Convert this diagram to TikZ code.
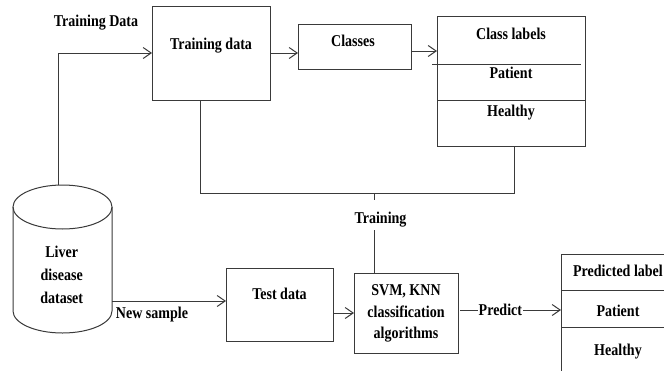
\documentclass[tikz,border=0pt]{standalone}
\usepackage{fontspec}
\setmainfont{Liberation Serif}[FakeStretch=0.85]
\usetikzlibrary{arrows.meta,calc}
\definecolor{lc}{HTML}{3A3A3A}
\begin{document}
\begin{tikzpicture}[x=1pt,y=-1pt,
  ln/.style={draw=lc, line width=1pt},
  arr/.style={ln, -{Straight Barb[length=8pt,width=11pt,line width=1pt]}},
  box/.style={ln, rectangle, inner sep=0pt, outer sep=0pt},
  txt/.style={font=\bfseries\fontsize{16.5}{22}\selectfont, text=black, inner sep=0pt, align=center}]
\clip (0,0) rectangle (664,370);
\fill[white] (0,0) rectangle (664,370);
% boxes
\node[box, minimum width=118, minimum height=94] (td) at (211,53) {};
\node[box, minimum width=113, minimum height=45] (cls) at (354.5,46.5) {};
\node[box, minimum width=148, minimum height=130] (cl) at (511,81) {};
\node[box, minimum width=107, minimum height=73] (test) at (279.5,304.5) {};
\node[box, minimum width=104, minimum height=80] (svm) at (406,313) {};
\node[box, minimum width=114, minimum height=146] (pred) at (618,327) {};
% separator lines
\draw[ln] (432,64) -- (581,64);
\draw[ln] (cl.west |- 0,100) -- (cl.east |- 0,100);
\draw[ln] (pred.west |- 0,290) -- (pred.east |- 0,290);
\draw[ln] (pred.west |- 0,327) -- (pred.east |- 0,327);
% cylinder
\draw[ln, fill=white] (13,207) -- (13,311) arc[start angle=180, end angle=0, x radius=49.5, y radius=22] -- (112,207);
\draw[ln] (62.5,207) ellipse[x radius=49.5, y radius=22];
\node[txt, font=\bfseries\fontsize{16.5}{23}\selectfont] (db) at (61.7,275) {Liver\\disease\\dataset};
% texts
\node[txt] (l1) at (96,22.5) {Training Data};
\node[txt] (l2) at (211,46) {Training data};
\node[txt] (l3) at (353,41) {Classes};
\node[txt] (l4) at (511,33.5) {Class labels};
\node[txt] (l5) at (511,73) {Patient};
\node[txt] (l6) at (511,112.5) {Healthy};
\node[txt] (l7) at (279.5,294) {Test data};
\node[txt, font=\bfseries\fontsize{16.5}{21.5}\selectfont] (l8) at (406,313.5) {SVM, KNN\\classification\\algorithms};
\node[txt] (l9) at (618,270.5) {Predicted label};
\node[txt] (l10) at (618,311) {Patient};
\node[txt] (l11) at (618,351.5) {Healthy};
\node[txt] (l12) at (152,315) {New sample};
\node[txt] (l13) at (380.5,220) {Training};
% connectors
\coordinate (cyltop) at (58,185);
\draw[arr] (cyltop) |- (td.west);
\draw[arr] (td.east) -- (td.east -| cls.west);
\draw[arr] ($(cls.east)+(0,4.5)$) -- ($(cl.west |- cls.east)+(0,4.5)$);
\coordinate (tdb) at ($(td.south)+(-11,0)$);
\coordinate (j1) at (200,193);
\coordinate (j2) at (514,193);
\coordinate (clb) at ($(cl.south)+(3,0)$);
\draw[ln] (tdb) -- (j1) -- (j2) -- (clb);
\coordinate (tj) at (374,193);
\coordinate (tg1) at (374,200);
\coordinate (tg2) at (374,230);
\draw[ln] (tj) -- (tg1);
\draw[ln] (tg2) -- (tg2 |- svm.north);
\coordinate (cylR) at (112,301);
\draw[arr] (cylR) -- (cylR -| test.west);
\draw[arr] (test.east |- svm.west) -- (svm.west);
\draw[arr] ($(svm.east)+(2,-3)$) -- node[txt, fill=white, pos=0.4, inner xsep=1pt] {Predict} ($(pred.west |- svm.east)+(0,-3)$);
\end{tikzpicture}
\end{document}
